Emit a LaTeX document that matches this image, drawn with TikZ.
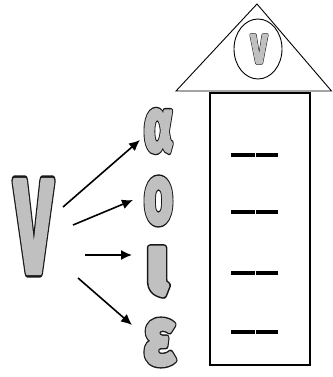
\documentclass[tikz,border=0pt]{standalone}
\usepackage{fontspec}
\setmainfont{Fira Sans}
\usetikzlibrary{arrows.meta}
\definecolor{letgray}{RGB}{192,192,192}
\newcommand{\glet}[3]{\textcolor{letgray}{\resizebox{#1pt}{#2pt}{\fontsize{50pt}{50pt}\selectfont\bfseries
  \rlap{\special{pdf:literal direct 0.1 0.1 0.1 RG 2 Tr 4.2 w 1 j}#3}%
  \special{pdf:literal direct 0.753 0.753 0.753 RG 2 Tr 2.4 w 1 j}#3\special{pdf:literal direct 0 Tr}}}}
\tikzset{
  letter/.style={inner sep=0pt, outer sep=0pt, anchor=center},
  arr/.style={line width=1.6pt, -{Latex[length=11pt,width=10pt]}},
  dashline/.style={line width=3.2pt},
  thinline/.style={line width=0.9pt},
}
\begin{document}
\begin{tikzpicture}[x=1pt,y=-1pt]
\useasboundingbox (0,0) rectangle (332,377);
% house
\draw[thinline] (176,91) -- (257,4) -- (331.5,91) -- cycle;
\draw[line width=1.2pt] (210,93) rectangle (310,365);
\draw[thinline] (258,49) ellipse [x radius=24, y radius=30];
% dashes
\foreach \yy in {155,212,273,332}{
  \draw[dashline] (231,\yy) -- (254.5,\yy);
  \draw[dashline] (255.5,\yy) -- (278,\yy);
}
% arrows
\coordinate (t1) at (63,207);
\coordinate (h1) at (140,140);
\coordinate (t2) at (73,225);
\coordinate (h2) at (133,200);
\coordinate (t3) at (85,255);
\coordinate (h3) at (132,255);
\coordinate (t4) at (78,278);
\coordinate (h4) at (132,325);
\draw[arr] (t1) -- (h1);
\draw[arr] (t2) -- (h2);
\draw[arr] (t3) -- (h3);
\draw[arr] (t4) -- (h4);
% letters
\node[letter] (cv) at (259,49) {\glet{16}{28}{V}};
\node[letter] (V) at (33.5,226.5) {\glet{37}{91}{V}};
\node[letter] (al) at (158.5,131) {\glet{29}{41}{α}};
\node[letter] (om) at (158.5,201) {\glet{29}{45}{ο}};
\node[letter] (io) at (157.5,271.5) {\glet{24}{46}{ι}};
\node[letter] (ep) at (159.5,342.5) {\glet{31}{44}{ε}};
\end{tikzpicture}
\end{document}
